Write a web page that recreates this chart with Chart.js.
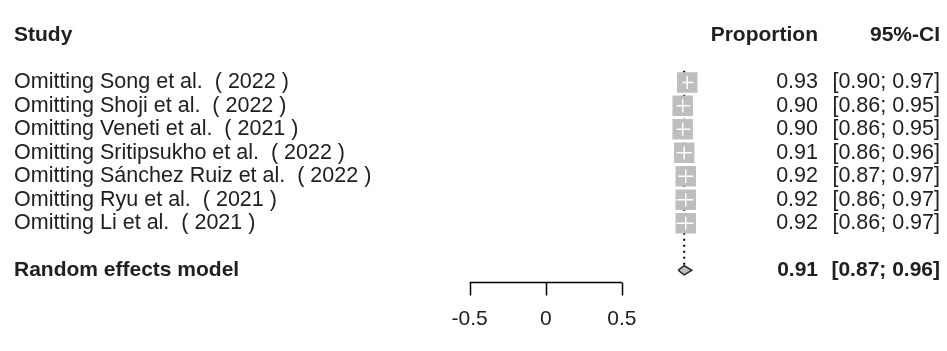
<!DOCTYPE html>
<html>
<head>
<meta charset="utf-8">
<script src="https://cdn.jsdelivr.net/npm/chart.js@4.4.1/dist/chart.umd.min.js"></script>
<style>
  body { margin: 0; background: #fff; }
  #wrap { width: 947px; height: 351px; }
</style>
</head>
<body>
<div id="wrap"><canvas id="forestChart" width="947" height="351"></canvas></div>
<script>
// leave-one-out data
var studyLabels = [
    'Omitting Song et al.  ( 2022 )',
    'Omitting Shoji et al.  ( 2022 )',
    'Omitting Veneti et al.  ( 2021 )',
    'Omitting Sritipsukho et al.  ( 2022 )',
    'Omitting S\u00e1nchez Ruiz et al.  ( 2022 )',
    'Omitting Ryu et al.  ( 2021 )',
    'Omitting Li et al.  ( 2021 )'
];
var estimates = [0.93, 0.90, 0.90, 0.91, 0.92, 0.92, 0.92];
var lowerCI = [0.90, 0.86, 0.86, 0.86, 0.87, 0.86, 0.86];
var upperCI = [0.97, 0.95, 0.95, 0.96, 0.97, 0.97, 0.97];

var pooledLabel = 'Random effects model';
var pooledEst = 0.91;
var pooledLower = 0.87;
var pooledUpper = 0.96;

var headerLabels = ['Study', 'Proportion', '95%-CI'];
var axisTicks = [-0.5, 0, 0.5];

// row positions (y values, top to bottom)
var headerRow = -1;
var studyRows = studyLabels.map(function (l, i) { return i + 1; });
var pooledRow = studyLabels.length + 2;
var axisRow = pooledRow + 0.5;
var tickLabelRow = pooledRow + 2.1;

var fontFamily = '"Liberation Sans", Arial, sans-serif';
var textColor = '#202020';
var boxColor = '#bebebe';

function fmt(v) { return v.toFixed(2); }

// --- datasets ---
var datasets = [];

// dotted line at pooled estimate
datasets.push({
    data: [{ x: pooledEst, y: 0.5 }, { x: pooledEst, y: pooledRow }],
    showLine: true,
    borderColor: '#000',
    borderWidth: 2,
    borderDash: [2, 4],
    pointRadius: 0,
    order: 10
});

// squares
datasets.push({
    data: estimates.map(function (e, i) { return { x: e, y: studyRows[i] }; }),
    pointStyle: 'rect',
    pointRadius: 14.5,
    backgroundColor: boxColor,
    borderWidth: 0,
    order: 8
});

// CI lines (white, they sit inside the squares)
estimates.forEach(function (e, i) {
    datasets.push({
        data: [{ x: lowerCI[i], y: studyRows[i] }, { x: upperCI[i], y: studyRows[i] }],
        showLine: true,
        borderColor: '#fff',
        borderWidth: 1.5,
        pointRadius: 0,
        order: 4
    });
    datasets.push({
        data: [{ x: e, y: studyRows[i] - 0.28 }, { x: e, y: studyRows[i] + 0.28 }],
        showLine: true,
        borderColor: '#fff',
        borderWidth: 1.5,
        pointRadius: 0,
        order: 4
    });
});

// diamond for the pooled estimate
datasets.push({
    data: [
        { x: pooledLower, y: pooledRow },
        { x: pooledEst, y: pooledRow - 0.2 },
        { x: pooledUpper, y: pooledRow },
        { x: pooledEst, y: pooledRow + 0.2 },
        { x: pooledLower, y: pooledRow }
    ],
    showLine: true,
    fill: 'shape',
    backgroundColor: boxColor,
    borderColor: '#222',
    borderWidth: 1.5,
    pointRadius: 0,
    order: 1
});

// --- text columns + x axis drawn from the scales ---
var forestText = {
    id: 'forestText',
    afterDraw: function (chart) {
        var ctx = chart.ctx;
        var xs = chart.scales.x;
        var ys = chart.scales.y;
        var labelX = 14, propRight = 818, ciRight = 940;

        ctx.save();
        ctx.fillStyle = textColor;
        ctx.textBaseline = 'middle';

        // headers
        ctx.font = 'bold 21px ' + fontFamily;
        var hy = ys.getPixelForValue(headerRow);
        ctx.textAlign = 'left';
        ctx.fillText(headerLabels[0], labelX, hy);
        ctx.textAlign = 'right';
        ctx.fillText(headerLabels[1], propRight, hy);
        ctx.fillText(headerLabels[2], ciRight, hy);

        // study rows
        ctx.font = '21.5px ' + fontFamily;
        studyLabels.forEach(function (lab, i) {
            var py = ys.getPixelForValue(studyRows[i]);
            ctx.textAlign = 'left';
            ctx.fillText(lab, labelX, py);
            ctx.textAlign = 'right';
            ctx.fillText(fmt(estimates[i]), propRight, py);
            ctx.fillText('[' + fmt(lowerCI[i]) + '; ' + fmt(upperCI[i]) + ']', ciRight, py);
        });

        // pooled row
        ctx.font = 'bold 21px ' + fontFamily;
        var pyy = ys.getPixelForValue(pooledRow);
        ctx.textAlign = 'left';
        ctx.fillText(pooledLabel, labelX, pyy);
        ctx.textAlign = 'right';
        ctx.fillText(fmt(pooledEst), propRight, pyy);
        ctx.fillText('[' + fmt(pooledLower) + '; ' + fmt(pooledUpper) + ']', ciRight, pyy);

        // x axis
        var ay = Math.round(ys.getPixelForValue(axisRow)) + 0.5;
        var x0 = xs.getPixelForValue(axisTicks[0]);
        var x1 = xs.getPixelForValue(axisTicks[axisTicks.length - 1]);
        ctx.strokeStyle = '#000';
        ctx.lineWidth = 1.5;
        ctx.beginPath();
        ctx.moveTo(x0, ay);
        ctx.lineTo(x1, ay);
        axisTicks.forEach(function (t) {
            var tx = Math.round(xs.getPixelForValue(t)) + 0.5;
            ctx.moveTo(tx, ay);
            ctx.lineTo(tx, ay + 13);
        });
        ctx.stroke();

        ctx.font = '21px ' + fontFamily;
        ctx.textAlign = 'center';
        var ly = ys.getPixelForValue(tickLabelRow);
        axisTicks.forEach(function (t) {
            ctx.fillText(String(t), xs.getPixelForValue(t), ly);
        });
        ctx.restore();
    }
};

// pixel mapping: 0 -> 548px, 157px per unit; row 1 -> 74px, 25.6px per row
var pxPerUnit = 157, zeroPx = 548;
var rowPx = 25.6, firstRowPx = 74;
var xMin = -zeroPx / pxPerUnit;
var xMax = xMin + 947 / pxPerUnit;
var yMin = 1 - firstRowPx / rowPx;
var yMax = yMin + 351 / rowPx;

new Chart(document.getElementById('forestChart'), {
    type: 'scatter',
    data: { datasets: datasets },
    options: {
        responsive: false,
        devicePixelRatio: 1,
        animation: false,
        layout: { padding: 0 },
        scales: {
            x: { type: 'linear', min: xMin, max: xMax, display: false },
            y: { type: 'linear', min: yMin, max: yMax, reverse: true, display: false }
        },
        plugins: {
            legend: { display: false },
            tooltip: { enabled: false }
        }
    },
    plugins: [forestText]
});
</script>
</body>
</html>
